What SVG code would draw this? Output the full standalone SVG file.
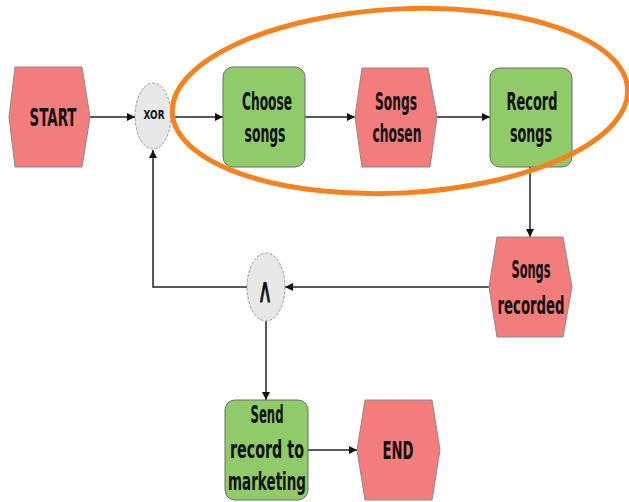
<svg xmlns="http://www.w3.org/2000/svg" width="629" height="502" viewBox="0 0 629 502">
<defs>
<marker id="arr" viewBox="0 0 10 10" refX="10" refY="5" markerWidth="8" markerHeight="8" markerUnits="userSpaceOnUse" orient="auto"><path d="M0,0 L10,5 L0,10 z" fill="#111"/></marker>
<style>
.ev{fill:#F37C7C;stroke:#8a8a8a;stroke-width:1}
.fn{fill:#8FCB69;stroke:#6d6d6d;stroke-width:1}
.gw{fill:#E8E8E8;stroke:#9a9a9a;stroke-width:1;stroke-dasharray:3 1.5}
.t{font-family:"DejaVu Sans",sans-serif;font-weight:bold;font-size:24px;fill:#111;text-anchor:middle}
.c{fill:none;stroke:#222;stroke-width:1.5}
</style>
</defs>
<rect width="629" height="502" fill="#fff"/>
<g id="connectors">
<line class="c" x1="90" y1="117" x2="135" y2="117" marker-end="url(#arr)"/>
<line class="c" x1="172" y1="117" x2="223" y2="117" marker-end="url(#arr)"/>
<line class="c" x1="305" y1="117" x2="355" y2="117" marker-end="url(#arr)"/>
<line class="c" x1="437" y1="117" x2="490" y2="117" marker-end="url(#arr)"/>
<line class="c" x1="530" y1="167" x2="530" y2="237" marker-end="url(#arr)"/>
<line class="c" x1="489" y1="287" x2="285" y2="287" marker-end="url(#arr)"/>
<polyline class="c" points="247,287 153,287 153,150" marker-end="url(#arr)"/>
<line class="c" x1="266" y1="321" x2="266" y2="400" marker-end="url(#arr)"/>
<line class="c" x1="308" y1="450" x2="357" y2="450" marker-end="url(#arr)"/>
</g>
<g id="start"><polygon class="ev" points="15,67 82,67 90,117 82,167 15,167 9,117"/><text class="t" x="53" y="126" textLength="47" lengthAdjust="spacingAndGlyphs">START</text></g>
<g id="xor"><ellipse class="gw" cx="153" cy="116" rx="18" ry="33"/><text class="t" x="154" y="119" style="font-size:13px" textLength="21" lengthAdjust="spacingAndGlyphs">XOR</text></g>
<g id="choose"><rect class="fn" x="223" y="67" width="82" height="100" rx="10"/><text class="t" x="267" y="110" textLength="50" lengthAdjust="spacingAndGlyphs">Choose</text><text class="t" x="265" y="142" textLength="41" lengthAdjust="spacingAndGlyphs">songs</text></g>
<g id="chosen"><polygon class="ev" points="362,68 428,68 437,117 430,167 362,167 355,117"/><text class="t" x="396" y="110" textLength="42" lengthAdjust="spacingAndGlyphs">Songs</text><text class="t" x="397" y="142" textLength="49" lengthAdjust="spacingAndGlyphs">chosen</text></g>
<g id="record"><rect class="fn" x="490" y="68" width="82" height="99" rx="10"/><text class="t" x="532" y="110" textLength="51" lengthAdjust="spacingAndGlyphs">Record</text><text class="t" x="531" y="142" textLength="42" lengthAdjust="spacingAndGlyphs">songs</text></g>
<g id="recorded"><polygon class="ev" points="497,237 563,237 572,287 563,337 497,337 489,287"/><text class="t" x="531" y="278" textLength="39" lengthAdjust="spacingAndGlyphs">Songs</text><text class="t" x="531" y="314" textLength="67" lengthAdjust="spacingAndGlyphs">recorded</text></g>
<g id="and"><ellipse class="gw" cx="266" cy="287" rx="19" ry="34"/><text class="t" x="265" y="302" style="font-size:34px;font-weight:normal;stroke:#111;stroke-width:0.8" textLength="15" lengthAdjust="spacingAndGlyphs">∧</text></g>
<g id="send"><rect class="fn" x="225" y="400" width="83" height="100" rx="10"/><text class="t" x="267" y="423" textLength="33" lengthAdjust="spacingAndGlyphs">Send</text><text class="t" x="267" y="458" textLength="74" lengthAdjust="spacingAndGlyphs">record to</text><text class="t" x="267" y="490" textLength="78" lengthAdjust="spacingAndGlyphs">marketing</text></g>
<g id="end"><polygon class="ev" points="365,400 432,400 440,450 432,500 365,500 357,450"/><text class="t" x="398" y="459" textLength="31" lengthAdjust="spacingAndGlyphs">END</text></g>
<ellipse cx="400" cy="101" rx="228" ry="92" fill="none" stroke="#F5821F" stroke-width="5" transform="rotate(-3 400 101)"/>
</svg>
